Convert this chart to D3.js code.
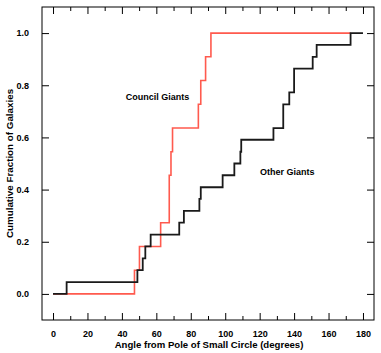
<!DOCTYPE html>
<html><head><meta charset="utf-8">
<script src="https://cdn.jsdelivr.net/npm/d3@7"></script>
<style>
html,body{margin:0;padding:0;background:#fff;}
svg{display:block;font-family:"Liberation Sans",Arial,Helvetica,sans-serif;}
</style></head>
<body>
<svg id="chart" width="381" height="353"></svg>
<script>
// Council Giants: angle (deg) where cumulative fraction steps up, and fraction after step
const councilAngles = [0, 47.3, 50.2, 62.5, 67.5, 68.5, 69.4, 84.4, 85.8, 88.6, 91.7, 172.8];
const councilFrac   = [0, 0.091, 0.182, 0.273, 0.455, 0.545, 0.636, 0.727, 0.818, 0.909, 1.0, 1.0];
// Other Giants
const otherAngles = [0, 7.9, 49.0, 52.1, 53.6, 56.7, 73.3, 76.0, 85.0, 85.8, 98.5, 105.3, 108.8, 109.3, 128.0, 133.7, 137.2, 140.0, 150.8, 153.1, 172.8, 180.0];
const otherFrac   = [0, 0.045, 0.091, 0.136, 0.182, 0.227, 0.273, 0.318, 0.364, 0.409, 0.455, 0.5, 0.545, 0.591, 0.636, 0.727, 0.773, 0.864, 0.909, 0.955, 1.0, 1.0];
const xTicks = [0, 20, 40, 60, 80, 100, 120, 140, 160, 180];
const xMinorTicks = [10, 30, 50, 70, 90, 110, 130, 150, 170];
const yTicks = [0.0, 0.2, 0.4, 0.6, 0.8, 1.0];

const svg = d3.select("#chart");
const L = 42, R = 374, T = 7, B = 320;
const x = d3.scaleLinear().domain([-6.4, 186.4]).range([L, R]);
const y = d3.scaleLinear().domain([-0.1, 1.1]).range([B, T]);

const fmt = d3.format(".1f");
// axes
svg.append("g").attr("transform", `translate(0,${B})`)
  .call(d3.axisBottom(x).tickValues(xTicks).tickSizeInner(-7).tickSizeOuter(0).tickPadding(11));
svg.append("g").attr("transform", `translate(0,${B})`)
  .call(d3.axisBottom(x).tickValues(xMinorTicks).tickSizeInner(-4).tickSizeOuter(0).tickFormat(""));
svg.append("g").attr("transform", `translate(0,${T})`)
  .call(d3.axisTop(x).tickValues(xTicks).tickSizeInner(-7).tickSizeOuter(0).tickFormat(""));
svg.append("g").attr("transform", `translate(0,${T})`)
  .call(d3.axisTop(x).tickValues(xMinorTicks).tickSizeInner(-4).tickSizeOuter(0).tickFormat(""));
svg.append("g").attr("transform", `translate(${L},0)`)
  .call(d3.axisLeft(y).tickValues(yTicks).tickFormat(fmt).tickSizeInner(-7).tickSizeOuter(0).tickPadding(13));
svg.append("g").attr("transform", `translate(${R},0)`)
  .call(d3.axisRight(y).tickValues(yTicks).tickSizeInner(-7).tickSizeOuter(0).tickFormat(""));

svg.selectAll(".domain").remove();
svg.selectAll(".tick line").attr("stroke", "#000").attr("stroke-width", 1);
svg.selectAll(".tick text").attr("font-size", 9).attr("font-weight", "bold").attr("fill", "#000")
  .attr("font-family", "'Liberation Sans',Arial,sans-serif");

svg.append("rect").attr("x", L).attr("y", T).attr("width", R - L).attr("height", B - T)
  .attr("fill", "none").attr("stroke", "#000").attr("stroke-width", 1);

const line = d3.line().x(d => x(d[0])).y(d => y(d[1])).curve(d3.curveStepAfter);
const council = councilAngles.map((a, i) => [a, councilFrac[i]]);
const other = otherAngles.map((a, i) => [a, otherFrac[i]]);

svg.append("path").datum(council).attr("d", line).attr("fill", "none")
  .attr("stroke", "#ff5a4e").attr("stroke-width", 1.6);
svg.append("path").datum(other).attr("d", line).attr("fill", "none")
  .attr("stroke", "#1a1a1a").attr("stroke-width", 1.8);

svg.append("text").attr("x", x(42.2)).attr("y", y(0.745)).attr("font-size", 9).attr("font-weight", "bold")
  .text("Council Giants");
svg.append("text").attr("x", x(120.2)).attr("y", y(0.455)).attr("font-size", 9).attr("font-weight", "bold")
  .text("Other Giants");

svg.append("text").attr("x", (L + R) / 2 + 1).attr("y", 347.5).attr("text-anchor", "middle")
  .attr("font-size", 9.6).attr("font-weight", "bold").text("Angle from Pole of Small Circle (degrees)");
svg.append("text").attr("transform", `translate(13,${(T + B) / 2}) rotate(-90)`).attr("text-anchor", "middle")
  .attr("font-size", 9.8).attr("font-weight", "bold").text("Cumulative Fraction of Galaxies");
</script>
</body></html>
